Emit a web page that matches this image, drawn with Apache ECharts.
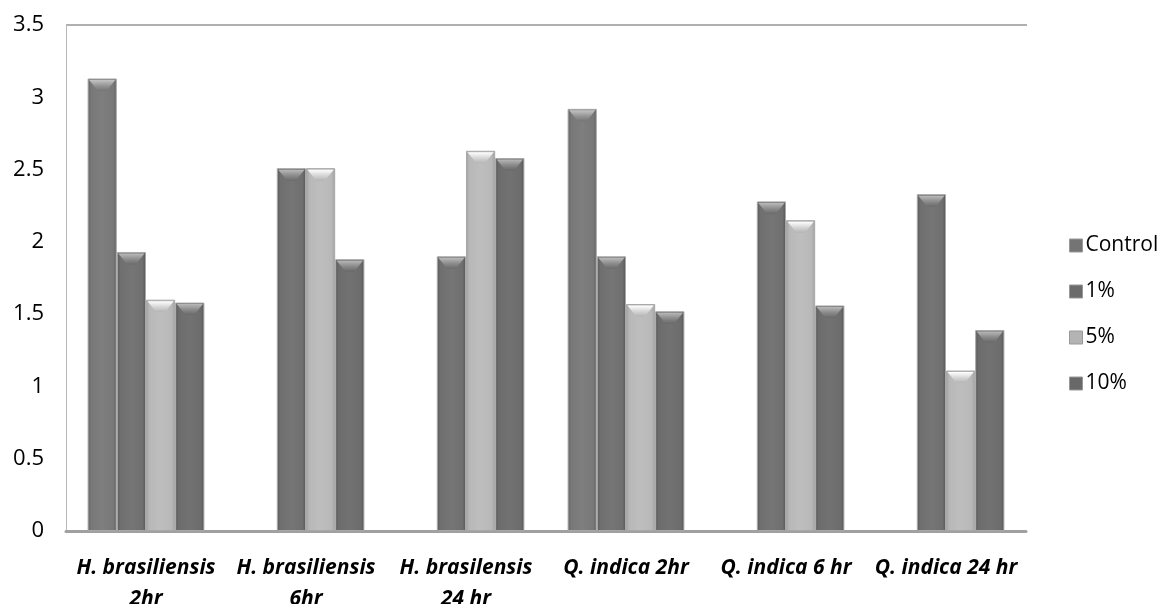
<!DOCTYPE html>
<html>
<head>
<meta charset="utf-8">
<script src="https://cdn.jsdelivr.net/npm/echarts@6/dist/echarts.min.js"></script>
<style>
    html, body { margin: 0; padding: 0; background: #fff; }
    #chart { width: 1162px; height: 604px; }
</style>
</head>
<body>
<div id="chart"></div>
<script>
// categories and series values
var categories = [
    "H. brasiliensis\n2hr",
    "H. brasiliensis\n6hr",
    "H. brasilensis\n24 hr",
    "Q. indica 2hr",
    "Q. indica 6 hr",
    "Q. indica 24 hr"
];
var seriesNames = ["Control", "1%", "5%", "10%"];
var controlValues = [3.13, null, null, 2.92, null, null];
var onePctValues = [1.93, 2.51, 1.90, 1.90, 2.28, 2.33];
var fivePctValues = [1.60, 2.51, 2.63, 1.57, 2.15, 1.11];
var tenPctValues = [1.58, 1.88, 2.58, 1.52, 1.56, 1.39];

var baseColors = ["#747474", "#6b6b6b", "#b4b4b4", "#686868"];
var CAT_GAP = 0.27;

function shade(hex, amt) {
    var n = parseInt(hex.slice(1), 16);
    var r = Math.max(0, Math.min(255, (n >> 16) + amt));
    var g = Math.max(0, Math.min(255, ((n >> 8) & 255) + amt));
    var b = Math.max(0, Math.min(255, (n & 255) + amt));
    return "rgb(" + r + "," + g + "," + b + ")";
}

function barFill(hex) {
    return new echarts.graphic.LinearGradient(0, 0, 1, 0, [
        {offset: 0, color: shade(hex, -18)},
        {offset: 0.12, color: shade(hex, 4)},
        {offset: 0.5, color: shade(hex, 10)},
        {offset: 0.88, color: shade(hex, 4)},
        {offset: 1, color: shade(hex, -22)}
    ]);
}

function makeSeries(name, data, idx) {
    return {
        name: name,
        type: "bar",
        data: data,
        barGap: 0,
        barCategoryGap: (CAT_GAP * 100) + "%",
        itemStyle: {
            color: barFill(baseColors[idx]),
            borderColor: "#a8a8a8",
            borderWidth: 1
        },
        emphasis: {disabled: true}
    };
}

/**
 * bevel highlight on top of each bar
 */
var allValues = [controlValues, onePctValues, fivePctValues, tenPctValues];
var bevelData = [];
allValues.forEach(function (arr, s) {
    arr.forEach(function (v, i) {
        if (v != null) {
            bevelData.push([i, v, s]);
        }
    });
});

function renderBevel(params, api) {
    var i = api.value(0);
    var v = api.value(1);
    var s = api.value(2);
    var top = api.coord([i, v]);
    var band = api.size([1, 0])[0];
    var bw = band * (1 - CAT_GAP) / 4;
    var x0 = top[0] - 2 * bw + s * bw + 1.5;
    var x1 = x0 + bw - 3;
    var y = top[1] + 1.5;
    var hex = baseColors[s];
    return {
        type: "polygon",
        shape: {points: [[x0, y], [x1, y], [x1 - bw * 0.3, y + 11], [x0 + bw * 0.3, y + 11]]},
        style: {
            fill: new echarts.graphic.LinearGradient(0, 0, 0, 1, [
                {offset: 0, color: shade(hex, 80)},
                {offset: 0.5, color: shade(hex, 35)},
                {offset: 1, color: shade(hex, 0)}
            ])
        },
        silent: true
    };
}

var chart = echarts.init(document.getElementById("chart"));

chart.setOption({
    animation: false,
    backgroundColor: "#fff",
    grid: {left: 66, right: 136, top: 25, bottom: 73, outerBoundsMode: "none"},
    legend: {
        orient: "vertical",
        left: 1064,
        top: 230,
        itemWidth: 13,
        itemHeight: 13,
        itemGap: 25,
        icon: "rect",
        textStyle: {fontFamily: "Open Sans", fontSize: 21, color: "#000", padding: [0, 0, 0, -2]},
        data: seriesNames.map(function (n, i) {
            return {name: n, itemStyle: {color: baseColors[i], borderColor: "#999", borderWidth: 1}};
        })
    },
    xAxis: {
        type: "category",
        data: categories,
        axisLine: {show: true, lineStyle: {color: "#a0a0a0", width: 3}},
        axisTick: {show: false},
        axisLabel: {
            interval: 0,
            margin: 22,
            fontFamily: "Open Sans",
            fontStyle: "italic",
            fontWeight: "bold",
            fontSize: 21,
            lineHeight: 31,
            color: "#000"
        }
    },
    yAxis: {
        type: "value",
        min: 0,
        max: 3.5,
        interval: 0.5,
        axisLine: {show: true, lineStyle: {color: "#b8b8b8", width: 1}},
        axisTick: {show: false},
        splitLine: {show: false},
        axisLabel: {
            margin: 22,
            fontFamily: "Open Sans",
            fontSize: 22,
            color: "#000"
        }
    },
    graphic: [{
        type: "line",
        shape: {x1: 66, y1: 25, x2: 1027, y2: 25},
        style: {stroke: "#b0b0b0", lineWidth: 2}
    }],
    series: [
        makeSeries(seriesNames[0], controlValues, 0),
        makeSeries(seriesNames[1], onePctValues, 1),
        makeSeries(seriesNames[2], fivePctValues, 2),
        makeSeries(seriesNames[3], tenPctValues, 3),
        {
            type: "custom",
            data: bevelData,
            renderItem: renderBevel,
            encode: {x: 0, y: 1},
            z: 3,
            silent: true
        }
    ]
});
</script>
</body>
</html>
